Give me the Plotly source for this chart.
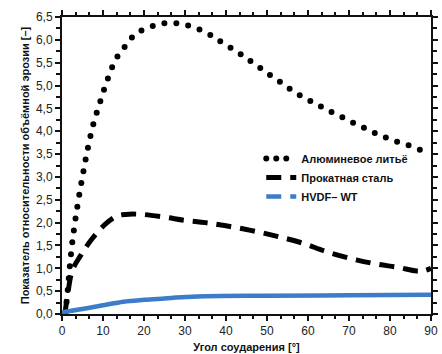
import plotly.graph_objects as go

# Aluminium casting (dotted)
alu_x = [0.8, 1.4, 1.9, 2.5, 3.3, 4.2, 5.2, 6.3, 7.6, 9.3, 11.1, 13.2, 15.0, 16.7, 18.6,
         21.2, 23.9, 26.6, 29.3, 32.0, 34.6, 37.1, 39.2, 42.0, 44.5, 46.8, 49.1, 51.5,
         54.0, 56.3, 58.9, 61.5, 64.0, 66.6, 69.2, 71.8, 74.5, 77.1, 79.9, 82.7, 85.4,
         88.0, 90.0]
alu_y = [0.0, 0.53, 1.04, 1.56, 2.09, 2.6, 3.11, 3.63, 4.14, 4.64, 5.13, 5.59, 5.81, 6.02,
         6.17, 6.27, 6.35, 6.37, 6.34, 6.28, 6.18, 6.06, 5.93, 5.78, 5.63, 5.48, 5.34, 5.18,
         5.03, 4.88, 4.74, 4.62, 4.50, 4.38, 4.27, 4.15, 4.04, 3.93, 3.83, 3.74, 3.67,
         3.57, 3.52]

# Rolled steel (dashed)
steel_x = [0.7, 1.5, 2.5, 4.4, 7.2, 10.5, 13.3, 15.5, 19.5, 25, 30, 35, 40, 46, 52, 58,
           65, 72, 77, 82, 86.5, 88.5, 90]
steel_y = [0.0, 0.5, 0.95, 1.26, 1.63, 1.96, 2.14, 2.18, 2.18, 2.12, 2.05, 2.0, 1.93, 1.83,
           1.71, 1.57, 1.35, 1.18, 1.09, 1.02, 0.94, 0.95, 1.0]

# HVDF-WT (solid blue)
hv_x = [0, 5, 10, 15, 20, 25, 30, 35, 50, 70, 90]
hv_y = [0.04, 0.11, 0.19, 0.27, 0.31, 0.34, 0.37, 0.39, 0.40, 0.41, 0.42]

names = ["Алюминевое литьё", "Прокатная сталь", "HVDF– WT"]

x_ticks = [0, 10, 20, 30, 40, 50, 60, 70, 80, 90]
y_ticks = [0.0, 0.5, 1.0, 1.5, 2.0, 2.5, 3.0, 3.5, 4.0, 4.5, 5.0, 5.5, 6.0, 6.5]

FONT = "Liberation Sans"
INK = "#111111"

fig = go.Figure()
fig.add_trace(go.Scatter(x=alu_x, y=alu_y, mode="lines", name=names[0],
                         line=dict(color="black", width=6, dash="0px,12px", shape="spline")))
fig.add_trace(go.Scatter(x=steel_x, y=steel_y, mode="lines", name=names[1],
                         line=dict(color="black", width=5, dash="15px,9px", shape="spline")))
fig.add_trace(go.Scatter(x=hv_x, y=hv_y, mode="lines", name=names[2],
                         line=dict(color="#3d7cc9", width=4.5, shape="spline")))

axis_common = dict(showline=True, linecolor=INK, linewidth=2, mirror="ticks",
                   ticks="outside", tickcolor=INK, tickwidth=2, ticklen=5,
                   showgrid=False, zeroline=False, automargin=False,
                   tickfont=dict(family=FONT, size=12, color="#222222"))

fig.update_xaxes(range=[0, 90], tickvals=x_ticks,
                 minor=dict(dtick=10/3, tick0=0, ticks="outside", ticklen=3,
                            tickwidth=2, tickcolor=INK),
                 title=dict(text="Угол соударения [°]", standoff=6,
                            font=dict(family=FONT, size=11, color=INK, weight="bold")),
                 **axis_common)
fig.update_yaxes(range=[0, 6.5], tickvals=y_ticks, tickformat=".1f",
                 minor=dict(dtick=0.25, tick0=0, ticks="outside", ticklen=4,
                            tickwidth=2, tickcolor=INK),
                 title=dict(text="Показатель относительности объёмной эрозии [–]", standoff=4,
                            font=dict(family=FONT, size=11, color=INK, weight="bold")),
                 **axis_common)

fig.update_layout(
    width=442, height=354,
    margin=dict(l=62, r=11, t=17, b=40),
    paper_bgcolor="white", plot_bgcolor="white",
    separators=", ",
    font=dict(family=FONT, color=INK),
    legend=dict(x=0.54, y=0.572, xanchor="left", yanchor="top",
                bgcolor="rgba(0,0,0,0)",
                font=dict(family=FONT, size=11, color=INK, weight="bold"),
                tracegroupgap=0),
)

post = """
document.body.style.margin = '0';
document.body.style.padding = '0';
var gd = document.getElementById('{plot_id}');
function fixStyles(){
  var tr = gd.querySelectorAll('.scatterlayer .trace');
  if (tr[0]) tr[0].querySelectorAll('path.js-line').forEach(function(p){ p.style.strokeLinecap='round'; });
  var lg = gd.querySelectorAll('.legend .traces');
  if (lg[0]) lg[0].querySelectorAll('path.js-line').forEach(function(p){ p.style.strokeLinecap='round'; p.style.strokeDasharray='0px,10px'; });
  if (lg[1]) lg[1].querySelectorAll('path.js-line').forEach(function(p){ p.style.strokeDasharray='15px,9px'; });
  if (lg[2]) lg[2].querySelectorAll('path.js-line').forEach(function(p){ p.style.strokeDasharray='15px,9px'; });
}
fixStyles();
gd.on('plotly_afterplot', fixStyles);
"""

fig.write_html("out.html", post_script=post, config={"displayModeBar": False})
